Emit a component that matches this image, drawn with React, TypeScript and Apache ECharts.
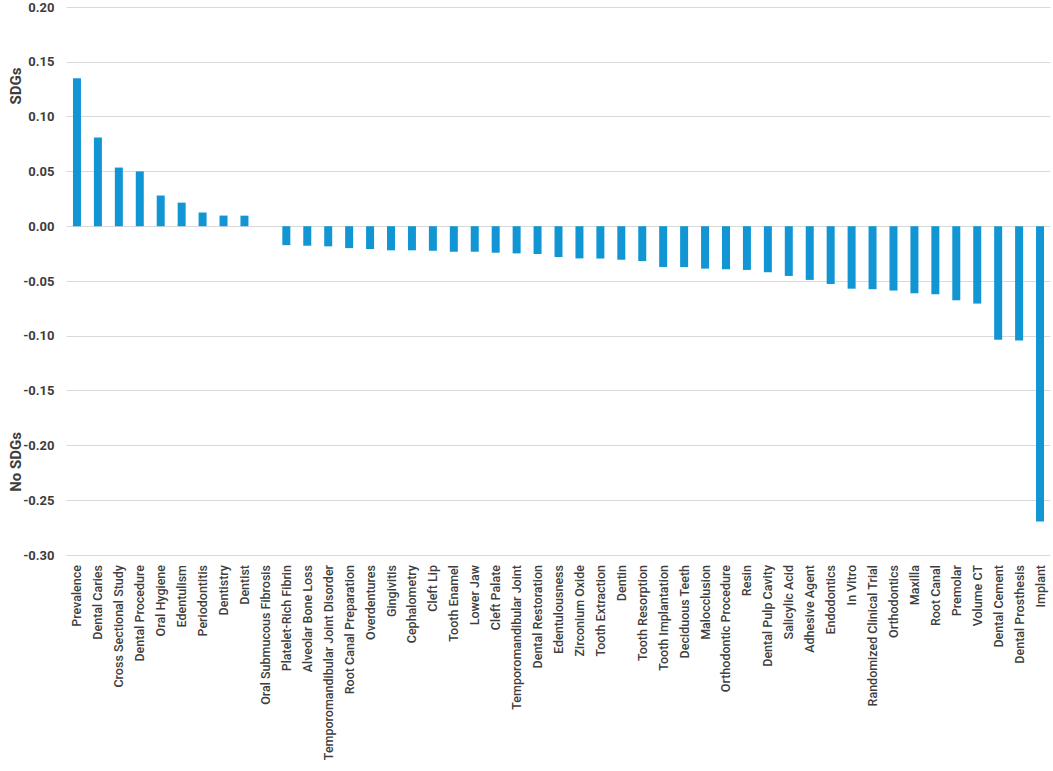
import React, { useEffect, useRef } from "react";
import * as echarts from "echarts";

const categories: string[] = [
  "Prevalence", "Dental Caries", "Cross Sectional Study", "Dental Procedure", "Oral Hygiene",
  "Edentulism", "Periodontitis", "Dentistry", "Dentist", "Oral Submucous Fibrosis",
  "Platelet-Rich Fibrin", "Alveolar Bone Loss", "Temporomandibular Joint Disorder",
  "Root Canal Preparation", "Overdentures", "Gingivitis", "Cephalometry", "Cleft Lip",
  "Tooth Enamel", "Lower Jaw", "Cleft Palate", "Temporomandibular Joint", "Dental Restoration",
  "Edentulousness", "Zirconium Oxide", "Tooth Extraction", "Dentin", "Tooth Resorption",
  "Tooth Implantation", "Deciduous Teeth", "Malocclusion", "Orthodontic Procedure", "Resin",
  "Dental Pulp Cavity", "Salicylic Acid", "Adhesive Agent", "Endodontics", "In Vitro",
  "Randomized Clinical Trial", "Orthodontics", "Maxilla", "Root Canal", "Premolar",
  "Volume CT", "Dental Cement", "Dental Prosthesis", "Implant",
];

const values: number[] = [
  0.135, 0.081, 0.0535, 0.050, 0.028,
  0.0215, 0.0125, 0.0097, 0.0096, 0.0,
  -0.0173, -0.0178, -0.0184,
  -0.020, -0.0208, -0.022, -0.022, -0.0224,
  -0.0233, -0.0233, -0.0242, -0.0248, -0.0254,
  -0.0281, -0.0294, -0.0295, -0.0306, -0.0318,
  -0.0372, -0.0373, -0.0387, -0.0393, -0.0399,
  -0.042, -0.0454, -0.049, -0.0527, -0.057,
  -0.0575, -0.0587, -0.0612, -0.0621, -0.0676,
  -0.0706, -0.1036, -0.1042, -0.2694,
];

const yTicks = { min: -0.3, max: 0.2, interval: 0.05 };
const yNames = ["SDGs", "No SDGs"];

const TEXT = "#3d3d3d";
const BAR = "#1296D3";

export default function App() {
  const ref = useRef<HTMLDivElement>(null);
  useEffect(() => {
    if (!ref.current) return;
    const chart = echarts.init(ref.current, undefined, { renderer: "svg" });
    chart.setOption({
      animation: false,
      backgroundColor: "#ffffff",
      textStyle: { fontFamily: "Roboto, 'Liberation Sans', sans-serif" },
      grid: { left: 66.5, right: 2.5, top: 7, bottom: 216, containLabel: false },
      xAxis: {
        type: "category",
        data: categories,
        axisLine: { show: false, onZero: false },
        axisTick: { show: false },
        axisLabel: {
          rotate: 90,
          interval: 0,
          margin: 10,
          color: TEXT,
          fontSize: 12.5,
          fontWeight: 500,
        },
      },
      yAxis: {
        type: "value",
        min: yTicks.min,
        max: yTicks.max,
        interval: yTicks.interval,
        axisLine: { show: false },
        axisTick: { show: false },
        splitLine: { lineStyle: { color: "#d9d9d9", width: 1 } },
        axisLabel: {
          color: TEXT,
          fontSize: 13,
          fontWeight: "bold",
          margin: 12,
          formatter: (v: number) => v.toFixed(2),
        },
      },
      graphic: [
        {
          type: "text",
          x: 16,
          y: 86,
          rotation: Math.PI / 2,
          style: {
            text: yNames[0],
            fill: TEXT,
            font: "bold 15px Roboto, 'Liberation Sans', sans-serif",
            align: "center",
            verticalAlign: "middle",
          },
        },
        {
          type: "text",
          x: 16,
          y: 462,
          rotation: Math.PI / 2,
          style: {
            text: yNames[1],
            fill: TEXT,
            font: "bold 15px Roboto, 'Liberation Sans', sans-serif",
            align: "center",
            verticalAlign: "middle",
          },
        },
      ],
      series: [
        {
          type: "bar",
          data: values,
          barWidth: 8,
          itemStyle: { color: BAR },
        },
      ],
    });
    return () => chart.dispose();
  }, []);
  return (
    <div
      ref={ref}
      style={{ position: "fixed", left: 0, top: 0, width: 1053, height: 771, background: "#fff" }}
    />
  );
}
